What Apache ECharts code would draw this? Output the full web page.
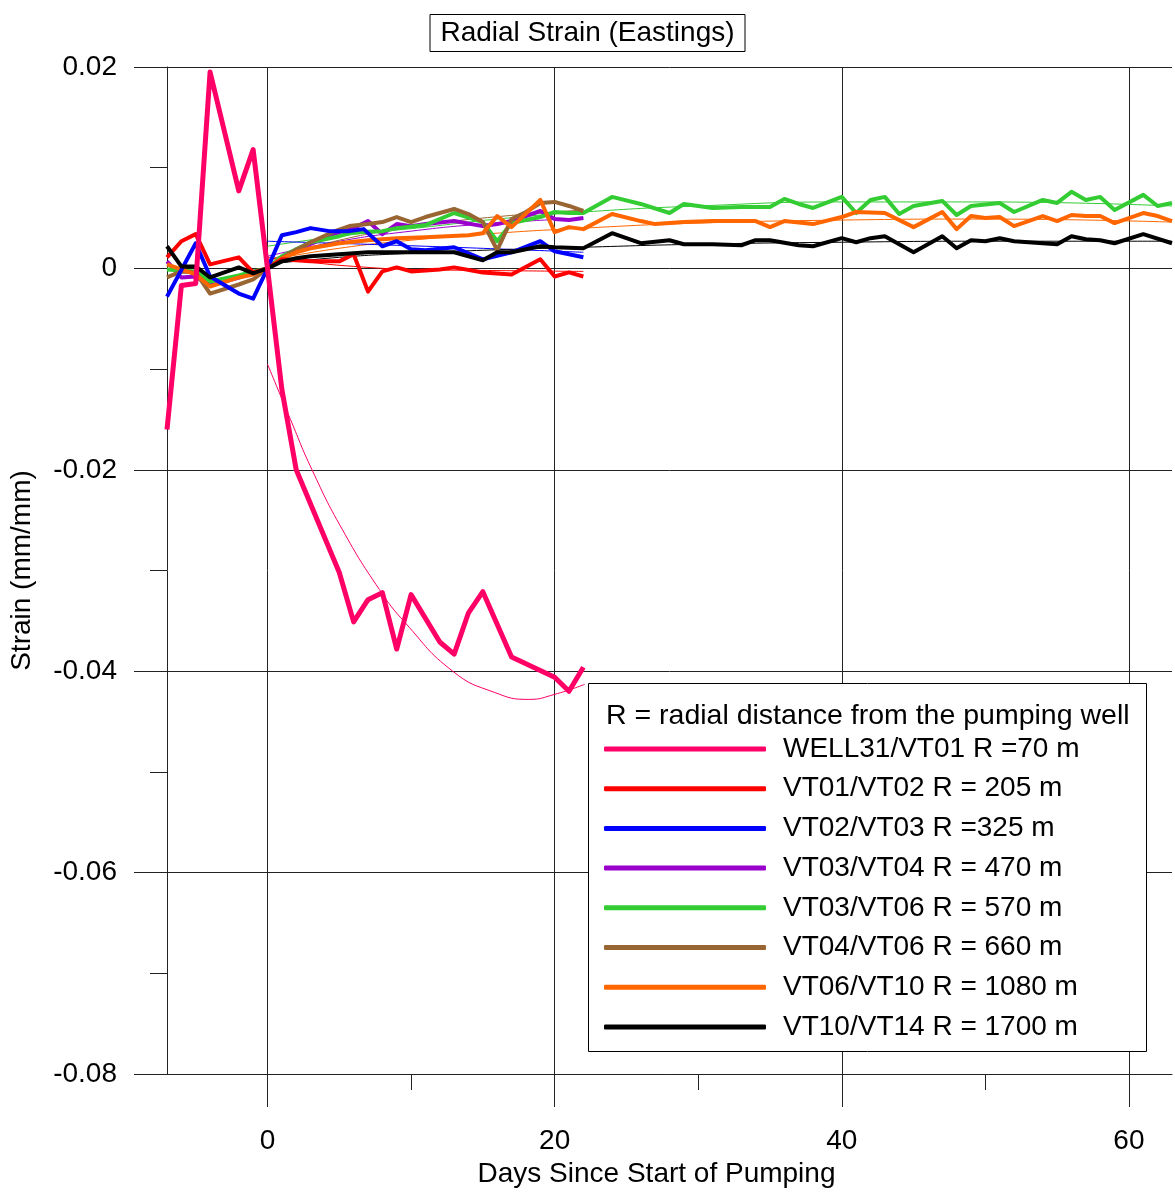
<!DOCTYPE html>
<html>
<head>
<meta charset="utf-8">
<script src="https://cdn.jsdelivr.net/npm/echarts@6/dist/echarts.min.js"></script>
<style>
  html, body { margin: 0; padding: 0; background: #fff; }
  #chart { width: 1175px; height: 1194px; }
</style>
</head>
<body>
<div id="chart"></div>
<script>
// Radial strain between survey points, eastings component.
// Each measured series is a list of [day, strain] pairs; each has a fitted trend curve.

const FONT = '"Liberation Sans", Arial, Helvetica, sans-serif';

const xMajorTicks = [0, 20, 40, 60];
const xMinorTicks = [10, 30, 50];
const yTicks = [-0.08, -0.06, -0.04, -0.02, 0, 0.02];

const seriesNames = [
  'WELL31/VT01 R =70 m',
  'VT01/VT02 R = 205 m',
  'VT02/VT03 R =325 m',
  'VT03/VT04 R = 470 m',
  'VT03/VT06 R = 570 m',
  'VT04/VT06 R = 660 m',
  'VT06/VT10 R = 1080 m',
  'VT10/VT14 R = 1700 m'
];
const seriesColors = ['#FF0066', '#FF0000', '#0000FF', '#9900CC', '#33CC33', '#996633', '#FF6600', '#000000'];

const well31Vt01 = [[-7, -0.0160], [-6, -0.0017], [-5, -0.0015], [-4, 0.0195], [-2, 0.0077], [-1, 0.0118], [0, 0],
  [1, -0.0120], [2, -0.0200], [5, -0.0302], [6, -0.0351], [7, -0.0329], [8, -0.0322], [9, -0.0378], [10, -0.0324],
  [12, -0.0371], [13, -0.0383], [14, -0.0342], [15, -0.0321], [17, -0.0386], [20, -0.0406], [21, -0.0420], [22, -0.0396]];

const vt01Vt02 = [[-7, 0.0011], [-6, 0.0027], [-5, 0.0034], [-4, 0.0004], [-2, 0.0011], [-1, -0.0004], [0, 0],
  [1, 0.0009], [3, 0.0007], [5, 0.0007], [6, 0.0014], [7, -0.0023], [8, -0.0003], [9, 0.0001], [10, -0.0003],
  [12, -0.0001], [13, 0.0001], [15, -0.0004], [17, -0.0006], [19, 0.0009], [20, -0.0008], [21, -0.0004], [22, -0.0008]];

const vt02Vt03 = [[-7, -0.0028], [-5, 0.0025], [-4, -0.0008], [-2, -0.0025], [-1, -0.0030], [0, 0],
  [1, 0.0033], [2, 0.0036], [3, 0.0040], [4.3, 0.0037], [5.7, 0.0037], [6.7, 0.0039], [8, 0.0022], [9, 0.0027],
  [10, 0.0019], [11, 0.0018], [13, 0.0021], [15, 0.0009], [17, 0.0016], [19, 0.0027], [20, 0.0017], [21, 0.0014], [22, 0.0011]];

const vt03Vt04 = [[-7, 0.0007], [-6, -0.0009], [-5, -0.0008], [-4, -0.0017], [-2, -0.0009], [-1, -0.0005], [0, 0],
  [1, 0.0008], [2, 0.0019], [3.5, 0.0027], [5, 0.0036], [6, 0.0040], [7, 0.0047], [8, 0.0034], [9, 0.0044],
  [10, 0.0042], [11, 0.0044], [13, 0.0047], [15, 0.0042], [16, 0.0044], [17, 0.0047], [19, 0.0057], [20, 0.0049],
  [21, 0.0048], [22, 0.0050]];

const vt03Vt06 = [[-7, -0.0001], [-5, -0.0003], [-4, -0.0013], [-2, -0.0007], [-1, -0.0003], [0, 0],
  [1, 0.0012], [3, 0.0026], [5, 0.0032], [6, 0.0036], [8, 0.0037], [9, 0.0040], [11, 0.0043], [13, 0.0055],
  [15, 0.0046], [16, 0.0027], [17, 0.0045], [19, 0.0051], [20, 0.0056], [21, 0.0055], [22, 0.0055],
  [24, 0.0071], [26, 0.0064], [28, 0.0055], [29, 0.0064], [31, 0.0060], [33, 0.0061], [35, 0.0061], [36, 0.0069],
  [37, 0.0064], [38, 0.0060], [40, 0.0071], [41, 0.0055], [42, 0.0068], [43, 0.0071], [44, 0.0054], [45, 0.0062],
  [47, 0.0067], [48, 0.0053], [49, 0.0062], [51, 0.0065], [52, 0.0056], [54, 0.0068], [55, 0.0065], [56, 0.0076],
  [57, 0.0068], [58, 0.0071], [59, 0.0058], [61, 0.0073], [62, 0.0062], [63, 0.0065]];

const vt04Vt06 = [[-7, -0.0009], [-6, -0.0003], [-5, -0.0004], [-4, -0.0025], [-2, -0.0016], [-1, -0.0011], [0, 0],
  [1.4, 0.0014], [3, 0.0026], [4.7, 0.0037], [5.7, 0.0042], [7, 0.0044], [8, 0.0046], [9, 0.0051], [10, 0.0046],
  [11, 0.0051], [13, 0.0059], [14, 0.0054], [15, 0.0046], [16, 0.0018], [17, 0.0049], [18, 0.0056], [19, 0.0065],
  [20, 0.0066], [21, 0.0062], [22, 0.0057]];

const vt06Vt10 = [[-7, 0.0004], [-6, -0.0001], [-5, -0.0006], [-4, -0.0018], [-2, -0.0009], [-1, -0.0006], [0, 0],
  [1, 0.0010], [2, 0.0016], [3, 0.0020], [5, 0.0025], [7, 0.0028], [9, 0.0030], [11, 0.0031], [14, 0.0033],
  [15, 0.0035], [16, 0.0052], [17, 0.0041], [19, 0.0068], [20, 0.0036], [21, 0.0041], [22, 0.0039],
  [24, 0.0054], [26, 0.0047], [27, 0.0044], [29, 0.0046], [31, 0.0047], [33, 0.0047], [34, 0.0047], [35, 0.0041],
  [36, 0.0047], [38, 0.0044], [40, 0.0051], [41, 0.0056], [43, 0.0055], [45, 0.0041], [47, 0.0056], [48, 0.0039],
  [49, 0.0052], [50, 0.0050], [51, 0.0051], [52, 0.0042], [54, 0.0052], [55, 0.0047], [56, 0.0053], [57, 0.0052],
  [58, 0.0052], [59, 0.0045], [61, 0.0055], [62, 0.0052], [63, 0.0047]];

const vt10Vt14 = [[-7, 0.0022], [-6, 0.0002], [-5, 0.0002], [-4, -0.0009], [-2, 0.0001], [-1, -0.0005], [0, 0],
  [1, 0.0007], [2, 0.0010], [3, 0.0012], [5, 0.0014], [7, 0.0016], [9, 0.0016], [11, 0.0016], [13, 0.0016],
  [15, 0.0008], [16, 0.0016], [17, 0.0016], [19, 0.0022], [20, 0.0021], [22, 0.0020],
  [24, 0.0035], [26, 0.0025], [28, 0.0028], [29, 0.0024], [31, 0.0024], [33, 0.0023], [34, 0.0028], [35, 0.0028],
  [37, 0.0023], [38, 0.0022], [40, 0.0030], [41, 0.0026], [42, 0.0030], [43, 0.0032], [45, 0.0016], [47, 0.0032],
  [48, 0.0020], [49, 0.0028], [50, 0.0027], [51, 0.0030], [52, 0.0027], [55, 0.0024], [56, 0.0032], [57, 0.0029],
  [58, 0.0028], [59, 0.0025], [61, 0.0034], [63, 0.0025]];

// fitted trend curves
const well31Vt01Fit = [[0, -0.0095], [1.6, -0.0150], [3.1, -0.0200], [5.2, -0.0259], [7.8, -0.0319], [9.6, -0.0352],
  [12.9, -0.0400], [15.8, -0.0421], [18.2, -0.0428], [20, -0.0423], [22.1, -0.0413]];
const vt01Vt02Fit = [[0, 0.0011], [3, 0.0006], [6, 0.0002], [10, -0.0001], [15, -0.0002], [22, -0.0003]];
const vt02Vt03Fit = [[0, 0.0027], [11, 0.0022], [22, 0.0016]];
const vt03Vt04Fit = [[0, 0.0012], [5, 0.0027], [10, 0.0037], [15, 0.0044], [22, 0.0050]];
const vt03Vt06Fit = [[0, 0.0022], [5, 0.0032], [11, 0.0041], [16, 0.0049], [22, 0.0056], [30, 0.0062], [40, 0.0066],
  [50, 0.0066], [63, 0.0062]];
const vt04Vt06Fit = [[0, 0.0008], [5, 0.0028], [10, 0.0041], [15, 0.0050], [22, 0.0058]];
const vt06Vt10Fit = [[0, 0.0008], [5, 0.0020], [10, 0.0028], [15, 0.0034], [22, 0.0040], [30, 0.0045], [40, 0.0048],
  [50, 0.0049], [63, 0.0046]];
const vt10Vt14Fit = [[0, 0.0004], [5, 0.0011], [10, 0.0015], [15, 0.0018], [22, 0.0021], [30, 0.0024], [40, 0.0026],
  [50, 0.0027], [63, 0.0027]];

const measured = [well31Vt01, vt01Vt02, vt02Vt03, vt03Vt04, vt03Vt06, vt04Vt06, vt06Vt10, vt10Vt14];
const fitted = [well31Vt01Fit, vt01Vt02Fit, vt02Vt03Fit, vt03Vt04Fit, vt03Vt06Fit, vt04Vt06Fit, vt06Vt10Fit, vt10Vt14Fit];
// drawing order, bottom to top
const drawOrder = [3, 4, 5, 6, 2, 1, 7, 0];

const series = [];
drawOrder.forEach(function (i) {
  series.push({
    name: seriesNames[i] + ' trend',
    type: 'line',
    data: fitted[i],
    smooth: true,
    symbol: 'none',
    silent: true,
    lineStyle: { color: seriesColors[i], width: 1 },
    itemStyle: { color: seriesColors[i] },
    z: 2
  });
});
drawOrder.forEach(function (i) {
  series.push({
    name: seriesNames[i],
    type: 'line',
    data: measured[i],
    symbol: 'none',
    silent: true,
    lineStyle: { color: seriesColors[i], width: i === 0 ? 5 : 4, join: 'round' },
    itemStyle: { color: seriesColors[i] },
    z: 3
  });
});

const axisColor = '#222';

const option = {
  backgroundColor: '#fff',
  animation: false,
  textStyle: { fontFamily: FONT, color: '#000' },
  title: {
    text: 'Radial Strain (Eastings)',
    left: 'center',
    top: 14,
    padding: [5, 11, 5, 11],
    borderColor: '#000',
    borderWidth: 1,
    textStyle: { fontFamily: FONT, fontSize: 28, fontWeight: 'normal', color: '#000', lineHeight: 28 }
  },
  grid: { left: 164, right: 3, top: 67, bottom: 120, containLabel: false },
  xAxis: [
    {
      type: 'value', min: -7, max: 63, position: 'bottom',
      axisLine: { show: true, onZero: false, lineStyle: { color: axisColor, width: 1 } },
      axisTick: { show: true, customValues: xMajorTicks, length: 33, lineStyle: { color: axisColor, width: 1 } },
      axisLabel: { customValues: xMajorTicks, margin: 53, fontFamily: FONT, fontSize: 28, color: '#000' },
      splitLine: { show: true, lineStyle: { color: axisColor, width: 1 } },
      name: 'Days Since Start of Pumping',
      nameLocation: 'middle',
      nameGap: 83,
      nameTextStyle: { fontFamily: FONT, fontSize: 28, color: '#000', padding: [0, 26, 0, 0] }
    },
    {
      type: 'value', min: -7, max: 63, position: 'bottom',
      axisLine: { show: false, onZero: false },
      axisTick: { show: true, customValues: xMinorTicks, length: 16, lineStyle: { color: axisColor, width: 1 } },
      axisLabel: { show: false },
      splitLine: { show: false }
    }
  ],
  yAxis: {
    type: 'value', min: yTicks[0], max: yTicks[yTicks.length - 1], interval: 0.02,
    axisLine: { show: true, onZero: false, lineStyle: { color: axisColor, width: 1 } },
    axisTick: { show: true, length: 33, lineStyle: { color: axisColor, width: 1 } },
    minorTick: { show: true, splitNumber: 2, length: 17, lineStyle: { color: axisColor, width: 1 } },
    minorSplitLine: { show: false },
    splitLine: { show: true, lineStyle: { color: axisColor, width: 1 } },
    axisLabel: {
      margin: 50, fontFamily: FONT, fontSize: 28, color: '#000',
      formatter: function (v) { return String(Number(v.toFixed(2))); }
    },
    name: 'Strain (mm/mm)',
    nameLocation: 'middle',
    nameGap: 131,
    nameTextStyle: { fontFamily: FONT, fontSize: 28, color: '#000' }
  },
  legend: {
    data: seriesNames,
    orient: 'vertical',
    left: 604,
    top: 735,
    padding: 0,
    itemWidth: 162,
    itemHeight: 5,
    itemGap: 11.7,
    icon: 'roundRect',
    selectedMode: false,
    textStyle: { fontFamily: FONT, fontSize: 28, lineHeight: 28, color: '#000', padding: [0, 0, 0, 12] },
    z: 10
  },
  graphic: [
    {
      type: 'rect', z: 8,
      shape: { x: 588.5, y: 683.5, width: 558, height: 368 },
      style: { fill: '#fff', stroke: '#000', lineWidth: 1 }
    },
    {
      type: 'text', z: 9,
      style: {
        text: 'R = radial distance from the pumping well',
        x: 606, y: 716, verticalAlign: 'middle',
        font: '28.5px ' + FONT, fill: '#000'
      }
    }
  ],
  series: series
};

const chart = echarts.init(document.getElementById('chart'), null, { renderer: 'canvas' });
chart.setOption(option);
</script>
</body>
</html>
